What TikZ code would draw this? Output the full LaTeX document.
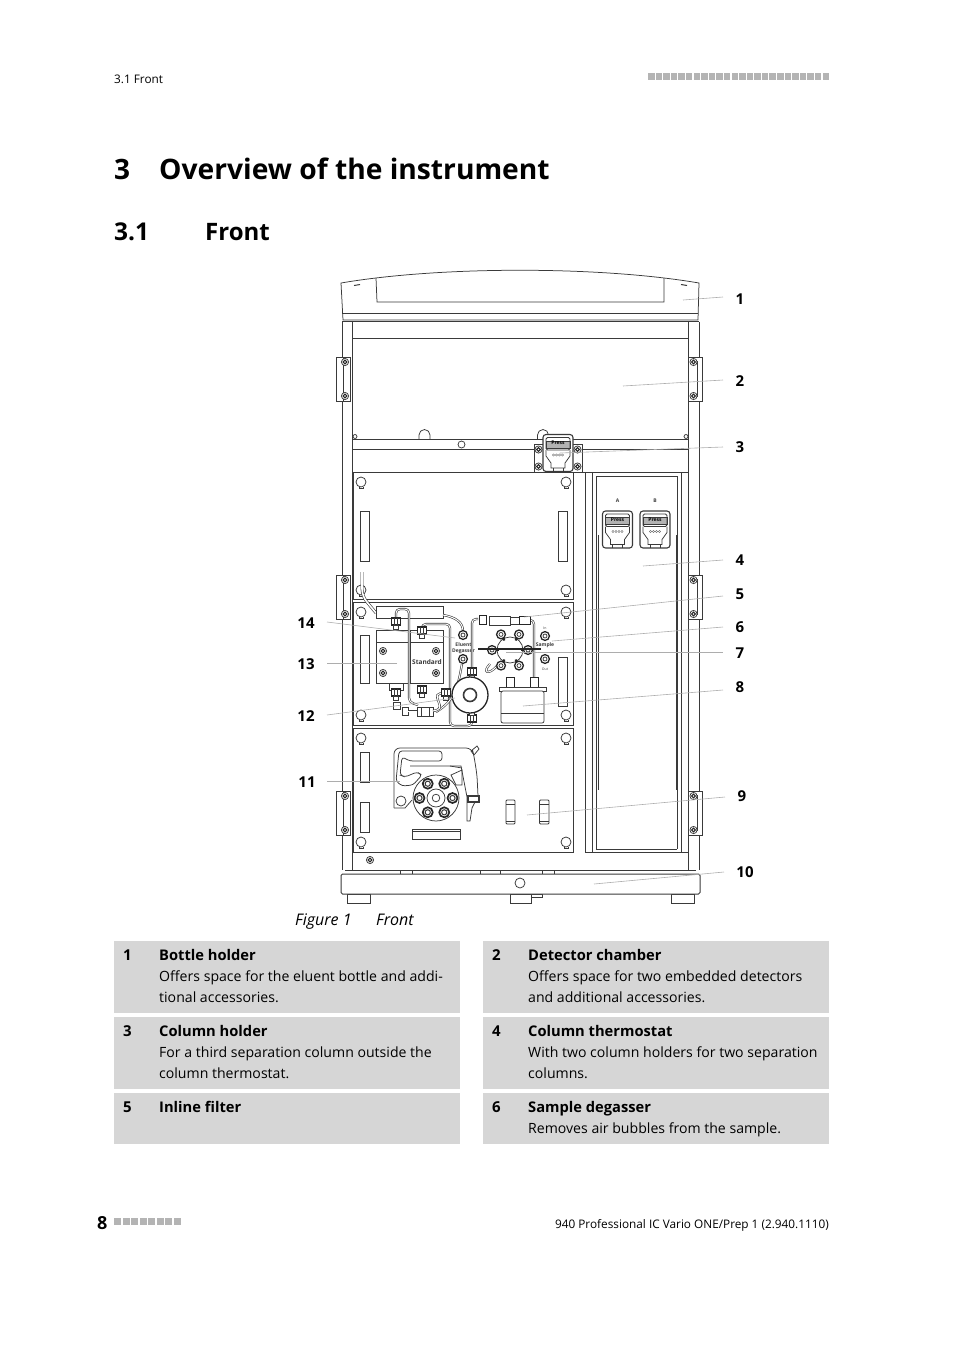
\documentclass[tikz,border=0pt]{standalone}
\usepackage{fontspec}
\setmainfont{Open Sans}
\usetikzlibrary{
	positioning,calc
}
\definecolor{linegray}{HTML}{3A3A3A}
\definecolor{cellgray}{HTML}{D6D6D6}
\definecolor{markgray}{HTML}{B4B4B4}
\newcommand{\itemhead}[1]{{\fontsize{14.7}{21}\selectfont\textbf{#1}}}
\tikzset{
  part/.style={
    draw=linegray, line width=.75pt
  },
  %
  heavy/.style={
    draw=black!85, line width=1.3pt
  },
  %
  tube/.style={
    draw=linegray, line width=.6pt, double=white, double distance=1pt, rounded corners=4pt
  },
  %
  leader/.style={
    draw=black!32, line width=.6pt
  },
  %
  callout/.style={
    font=\bfseries\fontsize{15}{18}\selectfont, inner sep=0pt
  },
  %
  itemcell/.style={
    rectangle, fill=cellgray, minimum width=346pt, inner sep=0pt, anchor=north west
  },
  %
  itemno/.style={
    font=\bfseries\fontsize{15}{21}\selectfont, inner sep=0pt, anchor=base west
  },
  %
  itemtext/.style={
    font=\fontsize{14.1}{21}\selectfont, inner sep=0pt, align=left, anchor=north west
  },
  %
  marksquare/.style={
    rectangle, fill=markgray, minimum size=6.5pt, inner sep=0pt
  },
  %
  tinytext/.style={
    font=\bfseries\fontsize{5}{5}\selectfont, inner sep=0pt, text=linegray
  },
  %
  screw/.pic={
    \draw[part, fill=white] (0,0) circle[radius=3.6];
    \draw[heavy, line width=1.1pt] (0,0) circle[radius=1.8];
  },
  %
  hole/.pic={
    \draw[part, fill=white] (0,0) circle[radius=5];
    \draw[part] (-2,4.6) -- (-2,6) -- (2,6) -- (2,4.6);
  },
  %
  fitting/.pic={
    \draw[heavy, fill=white] (-4.5,-5) rectangle (4.5,2);
    \draw[part] (-1.5,-5) -- (-1.5,2) (1.5,-5) -- (1.5,2);
    \draw[part, fill=white] (-2.5,2) rectangle (2.5,6);
  },
  %
  valveport/.pic={
    \draw[heavy, fill=white] (0,0) circle[radius=4.4];
    \draw[part] (0,0) circle[radius=2];
  },
  %
  pressclip/.pic={
    \draw[part, fill=white, rounded corners=3pt, line width=1.1pt] (-15,-18.5) rectangle (15,18.5);
    \draw[part, fill=black!30] (-12,-12) rectangle (12,-5);
    \draw[part, rounded corners=1.5pt] (-12,-15.5) rectangle (12,-3);
    \node[tinytext, text=black] at (0,-10) {Press};
    \draw[part] (-12,-3) -- (-12,3) -- (-7,10) -- (-7,15) -- (7,15) -- (7,10) -- (12,3) -- (12,-3);
    \draw[part] (-5,15) -- (-5,18) (5,15) -- (5,18);
    \foreach \dotx in {-4.5,-1.5,1.5,4.5}
      \draw[draw=black!60, line width=.4pt] (\dotx,2) circle[radius=1.2];
  }
}

\begin{document}
\begin{tikzpicture}[x=1pt,y=-1pt]
\useasboundingbox (0,0) rectangle (954,1350);

\node(headleft)[inner sep=0pt, anchor=base west, font=\fontsize{11.8}{14}\selectfont] at (114,83) {3.1 Front};
\foreach \i in {0,...,23}
  \node(headmark\i)[marksquare] at ({651.3+\i*7.587},76.5) {};
\node(chapterno)[inner sep=0pt, anchor=base west, font=\bfseries\fontsize{28}{34}\selectfont] at (114,179) {3};
\node(chapter)[inner sep=0pt, anchor=base west, font=\bfseries\fontsize{28.2}{34}\selectfont] at (159,179) {Overview of the instrument};
\node(section)[inner sep=0pt, anchor=base west, font=\bfseries\fontsize{24.5}{30}\selectfont] at (114,240.5) {3.1};
\node(sectiontitle)[inner sep=0pt, anchor=base west, font=\bfseries\fontsize{24}{30}\selectfont] at (205,240.5) {Front};

% lid
\draw[part] (341,283) .. controls (440,266) and (600,266) .. (699,283) -- (698,320) -- (343,320) -- cycle;
\draw[part] (342,313) -- (698,313);
\draw[part] (376,278) -- (377,302) -- (664,302) -- (664,278);
\draw[part, line width=1pt] (354,285.5) -- (360,284.5) (681,284.5) -- (687,285.5);

% cabinet
\draw[part] (342.5,322) -- (342.5,870) (699,322) -- (699,870);
\draw[part] (352.5,322) -- (352.5,870) (688,322) -- (688,870);
\draw[part, line width=1.2pt] (342,321.5) -- (699,321.5);
\draw[part] (352.5,338) -- (688,338);
\draw[part] (352.5,439) -- (688,439) (352.5,449) -- (688,449) (352.5,472) -- (688,472);
\draw[part] (419,439) -- (419,435) arc[start angle=180, end angle=360, radius=5.5] -- (430,439);
\draw[part] (537.5,439) -- (537.5,435) arc[start angle=180, end angle=360, radius=5.5] -- (548.5,439);
\draw[part] (461.5,444.5) circle[radius=3.5];
\draw[part] (355,436.5) circle[radius=2] (686,436.5) circle[radius=2];

% hinges
\foreach \hy in {357,575,791}{
  \draw[part, fill=white] (336,\hy) rectangle (350.5,\hy+44);
  \draw[part] (343,\hy) -- (343,\hy+44);
  \draw[part, fill=white] (688,\hy) rectangle (702,\hy+44);
  \draw[part] (697,\hy+4) -- (697,\hy+40);
  \pic at (345,\hy+5) {screw};
  \pic at (345,\hy+39) {screw};
  \pic at (693.5,\hy+5) {screw};
  \pic at (693.5,\hy+39) {screw};
}

% panels
\draw[part] (353.5,473) -- (353.5,599.5) -- (573,599.5) -- (573,473);
\draw[part] (353.5,602) rectangle (573,725);
\draw[part] (353.5,728) rectangle (573,852);
\foreach \px in {361,566}{
  \foreach \py in {482,590,612,715,738,842}
    \pic at (\px,\py) {hole};
}
\foreach \sx/\sy/\sh in {360/511/50, 558/511/50, 360/635/48, 558.5/657/49, 360/752/30, 360/802/30}
  \draw[part, line width=1pt] (\sx,\sy) rectangle +(9,\sh);

% thermostat
\draw[part] (585,472) -- (585,852) (592,472) -- (592,852) (596,476) -- (596,849);
\draw[part] (677,476) -- (677,849) (681,472) -- (681,852);
\draw[part] (596,476) -- (677,476) (596,849) -- (677,849) (585,852) -- (688,852);
\draw[part] (598,535) -- (598,790) (676,535) -- (676,790);
\node(labelA)[tinytext] at (617.5,501) {A};
\node(labelB)[tinytext] at (655,501) {B};
\pic at (617.5,529.5) {pressclip};
\pic at (655,529.5) {pressclip};

% upper clip
\draw[part, fill=white] (534,444.5) rectangle (582,472);
\pic at (538.5,449.5) {screw};
\pic at (538.5,466.5) {screw};
\pic at (577.5,449.5) {screw};
\pic at (577.5,466.5) {screw};
\pic at (558,453) {pressclip};

% tubes and holders
\draw[tube, double distance=1.6pt, rounded corners=7pt] (362,572) -- (362,596) -- (376,613);
\draw[part, fill=white] (376,606) rectangle (443,618);
\draw[part, fill=white] (376,630) rectangle (443,683);
\draw[part] (376,642) -- (443,642) (410,630) -- (410,683);
\foreach \bx/\by in {383/651, 436/651, 383/673, 436/673}
  \pic at (\bx,\by) {screw};
\node(standard)[font=\bfseries\fontsize{6.5}{7}\selectfont, inner sep=0pt, text=linegray] at (427,662) {Standard};
\draw[tube] (396,620) -- (396,609) -- (409,609) -- (409,702) -- (418,705);
\draw[tube] (422,628) -- (422,624) -- (450,624) -- (450,726) -- (472,726) -- (472,720);
\draw[tube] (443,615) .. controls (455,617) and (463,622) .. (463,631);
\draw[tube] (462,664) .. controls (458,685) and (456,700) .. (436,712);
\pic at (396,623) {fitting};
\pic at (422,632) {fitting};
\draw[part, fill=white] (389,683) rectangle (403,690);
\pic at (396,694) {fitting};
\pic at (422,691) {fitting};
\draw[part, fill=white] (417,707) rectangle (433,716);
\draw[part] (421,707) -- (421,716) (429,707) -- (429,716);
\draw[part, fill=white] (402,707) rectangle (408,715);
\draw[part, fill=white] (393,702) rectangle (400,709);
\draw[tube] (408,711) -- (417,711);
\draw[tube] (433,711) -- (441,709) -- (436,694) -- (445,693);
\pic at (463,635) {valveport};
\pic at (463,659) {valveport};
\node(eluent)[tinytext] at (463.5,645) {Eluent};
\node(degasser)[tinytext] at (463.5,651) {Degasser};

% pump ring
\draw[tube] (478,619) -- (472,619) -- (472,670);
\pic at (472,673) {fitting};
\pic at (446,694) {fitting};
\pic[rotate=180] at (472,717) {fitting};
\draw[heavy, fill=white] (470,695) circle[radius=18];
\draw[part, line width=1.6pt] (470,695) circle[radius=6.5];

% inline filter
\draw[tube] (530,620) -- (534,620) -- (534,680);
\draw[heavy, line width=1pt, fill=white] (479,615) rectangle (486,624);
\draw[part, fill=white] (489,616) rectangle (510,625);
\draw[part, fill=white] (510,617) rectangle (519,624);
\draw[heavy, line width=1pt, fill=white] (519,616) rectangle (530,624);

% valve
\draw[tube] (490,664) .. controls (482,672) and (488,676) .. (497,666);
\draw[part, fill=white] (510,650) circle[radius=13];
\foreach \va in {0,60,...,300}{
  \draw[heavy, line width=2pt] ($(510,650)+(\va:11)$) -- ($(510,650)+(\va:18)$);
  \pic at ($(510,650)+(\va:18)$) {valveport};
}
\draw[heavy, line width=1.4pt] (478,649) -- (541,649);
\draw[draw=black!60, line width=.6pt, dashed] (520,652) -- (556,652);
\pic at (545,636) {valveport};
\pic at (545,659) {valveport};
\node(inlabel)[tinytext, font=\fontsize{3.5}{4}\selectfont] at (545,628) {In};
\node(samplelabel)[tinytext] at (545,645.5) {Sample};
\node(outlabel)[tinytext, font=\fontsize{3.5}{4}\selectfont] at (545,669) {Out};

% bottle
\draw[heavy, line width=1pt, fill=white] (506,677) rectangle (514,687);
\draw[heavy, line width=1pt, fill=white] (530,677) rectangle (538,687);
\draw[part, fill=white] (499,687) rectangle (546,691);
\draw[part, fill=white, rounded corners=2pt] (501,691) rectangle (544,723);
\draw[part, line width=1pt] (501,713) -- (544,713);

% pump
\draw[part, rounded corners=6pt, line join=round] (394,808) -- (394,748) -- (472,748) -- (474,756) -- (477,775) -- (478,796);
\draw[part] (474,755) -- (471,751) -- (477,746) -- (479,749) -- (474,755);
\draw[part] (478,796) -- (472,808) -- (470,821) -- (467,821) -- (467,797) -- (461,766) -- (410,766);
\draw[part] (394,808) -- (405,808) -- (412,800);
\draw[part, rounded corners=3pt] (399,751) -- (442,751) -- (442,761) -- (410,761) -- (402,757) -- (400,775) -- (405,777) -- (417,772) -- (422,775) -- (413,785) -- (402,786) -- (396,781) -- cycle;
\draw[part] (451,775) -- (462,770) -- (462,785) -- (456,785) -- cycle;
\draw[part] (450,766) -- (462,768);
\draw[part, fill=white] (436,798) circle[radius=23];
\foreach \ra in {0,60,...,300}{
  \draw[heavy, line width=1.7pt, fill=white] ($(436,798)+(\ra:16.5)$) circle[radius=5];
  \draw[part, line width=1pt] ($(436,798)+(\ra:16.5)$) circle[radius=2.6];
}
\draw[part, fill=white] (436,798) circle[radius=9];
\draw[part] (436,798) circle[radius=3.8];
\draw[part, fill=white] (401,801) circle[radius=5];
\draw[part, line width=1.1pt, fill=white] (468,796) rectangle (479,802);
\draw[part, line width=1pt] (412,829) rectangle (460,839);
\draw[part] (412,831) -- (460,831);
\draw[part, rounded corners=1pt] (506,800) rectangle (515,824);
\draw[part] (506,804) -- (515,804) (506,821) -- (515,821);
\draw[part, rounded corners=1pt] (539.5,800) rectangle (549,824);
\draw[part] (539.5,804) -- (549,804) (539.5,821) -- (549,821);

% base
\pic at (370,860) {screw};
\draw[part, line width=1pt] (345,870) -- (696,870);
\foreach \tx/\tw in {400/12, 480/20, 542/12}
  \draw[part] (\tx,870) rectangle +(\tw,4);
\draw[part] (347,894) rectangle (370,903);
\draw[part] (510,894) rectangle (531,903);
\draw[part] (531,894) rectangle (542,897);
\draw[part] (671,894) rectangle (694,903);
\draw[part, line width=1pt, fill=white, rounded corners=1.5pt] (341,874) rectangle (700,894);
\draw[part] (520,883) circle[radius=5];

% callouts
\foreach \cname/\cx/\cy/\ctext in {one/740/298.7/1, two/740/380.7/2, three/740/447.5/3, four/740/560.2/4, five/740/594.7/5, six/740/626.7/6, seven/740/653.5/7, eight/740/686.7/8, nine/742/796.5/9, ten/745/871.7/10, eleven/307/782.5/11, twelve/306/715.7/12, thirteen/306/663.7/13, fourteen/306/622.7/14}
  \node(\cname)[callout] at (\cx,\cy) {\ctext};
\coordinate(tipone) at (683,300);
\coordinate(tiptwo) at (623,386);
\coordinate(tipthree) at (560,453);
\coordinate(tipfour) at (643,566);
\coordinate(tipfive) at (524,617);
\coordinate(tipsix) at (552,641);
\coordinate(tipseven) at (506,652);
\coordinate(tipeight) at (523,706);
\coordinate(tipnine) at (527,815);
\coordinate(tipten) at (594,884);
\coordinate(tipeleven) at (400,781);
\coordinate(tiptwelve) at (455,698);
\coordinate(tipthirteen) at (397,663);
\coordinate(tipfourteen) at (455,638);
\draw[leader] (tipone) -- (723,297);
\draw[leader] (tiptwo) -- (723,380);
\draw[leader] (tipthree) -- (723,447);
\draw[leader] (tipfour) -- (723,560);
\draw[leader] (tipfive) -- (723,596);
\draw[leader] (tipsix) -- (723,627);
\draw[leader] (tipseven) -- (723,652);
\draw[leader] (tipeight) -- (723,690);
\draw[leader] (tipnine) -- (725,797);
\draw[leader] (tipten) -- (724,872);
\draw[leader] (tipeleven) -- (327,781);
\draw[leader] (tiptwelve) -- (327,715);
\draw[leader] (tipthirteen) -- (327,663);
\draw[leader] (tipfourteen) -- (327,622);

\node(figure)[inner sep=0pt, anchor=base west, font=\itshape\fontsize{16}{20}\selectfont] at (295,925) {Figure 1};
\node(figuretitle)[inner sep=0pt, anchor=base west, font=\itshape\fontsize{16}{20}\selectfont] at (376,925) {Front};

% table
\node(cella)[itemcell, minimum height=72pt] at (114,941) {};
\node(cellb)[itemcell, minimum height=72pt] at (483,941) {};
\node(cellc)[itemcell, minimum height=72pt, below=3.6pt of cella.south west, anchor=north west] {};
\node(celld)[itemcell, minimum height=72pt, below=3.6pt of cellb.south west, anchor=north west] {};
\node(celle)[itemcell, minimum height=51pt, below=3.6pt of cellc.south west, anchor=north west] {};
\node(cellf)[itemcell, minimum height=51pt, below=3.6pt of celld.south west, anchor=north west] {};
\foreach \cell/\num/\body in {
    cella/1/{\itemhead{Bottle holder}\\Offers space for the eluent bottle and addi-\\tional accessories.},
    cellb/2/{\itemhead{Detector chamber}\\Offers space for two embedded detectors\\and additional accessories.},
    cellc/3/{\itemhead{Column holder}\\For a third separation column outside the\\column thermostat.},
    celld/4/{\itemhead{Column thermostat}\\With two column holders for two separation\\columns.},
    celle/5/{\itemhead{Inline filter}},
    cellf/6/{\itemhead{Sample degasser}\\Removes air bubbles from the sample.}}{
  \node(no\cell)[itemno] at ($(\cell.north west)+(9,19)$) {\num};
  \node(text\cell)[itemtext] at ($(\cell.north west)+(45,8)$) {\body};
}

\node(pageno)[inner sep=0pt, anchor=base west, font=\bfseries\fontsize{18}{20}\selectfont] at (97,1229) {8};
\foreach \i in {0,...,7}
  \node(footmark\i)[marksquare, minimum size=7pt] at ({117.5+\i*8.5},1221.5) {};
\node(footright)[inner sep=0pt, anchor=base east, font=\fontsize{11.8}{14}\selectfont] at (829,1228) {940 Professional IC Vario ONE/Prep 1 (2.940.1110)};
\end{tikzpicture}
\end{document}
